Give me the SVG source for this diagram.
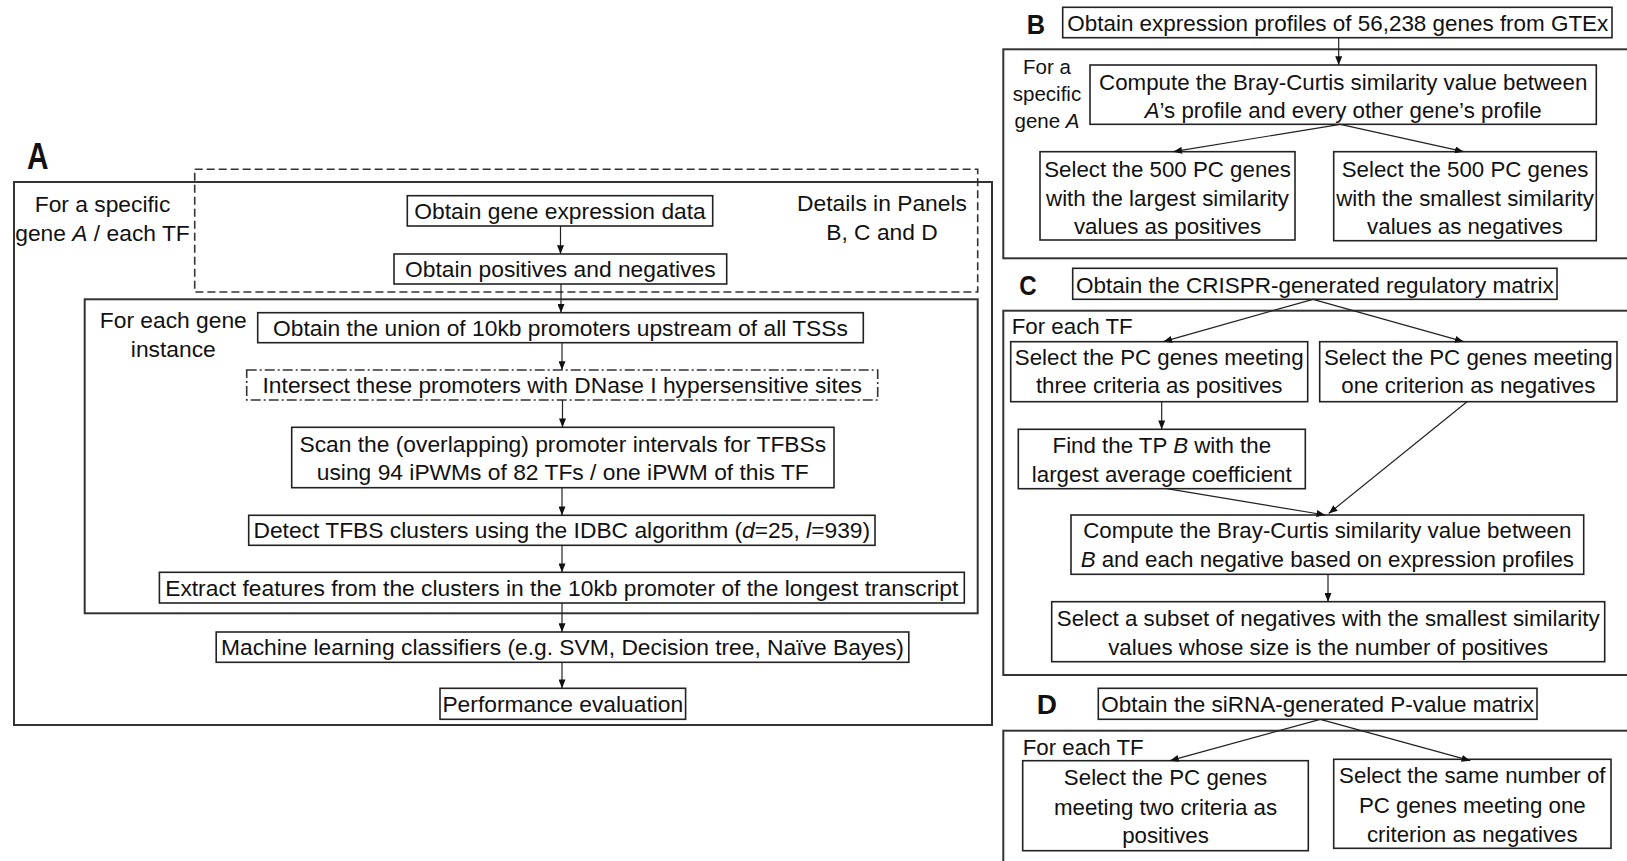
<svg xmlns="http://www.w3.org/2000/svg" width="1627" height="861" viewBox="0 0 1627 861">
  <style>
    text { font-family: "Liberation Sans", Arial, sans-serif; fill: #111; }
    .a { font-size: 22.8px; text-anchor: middle; }
    .b { font-size: 22.3px; text-anchor: middle; }
    .bl { font-size: 22.3px; }
    .tb { font-size: 22.4px; text-anchor: middle; }
    .tc { font-size: 22.5px; text-anchor: middle; }
    .side { font-size: 20.5px; text-anchor: middle; }
    .lab { font-size: 28px; font-weight: bold; }
    .it { font-style: italic; }
    .box { fill: #fff; stroke: #222; stroke-width: 1.6; }
    .frame { fill: none; stroke: #333; stroke-width: 2; }
    .dash { fill: none; stroke: #333; stroke-width: 1.6; stroke-dasharray: 8 4; }
    .dashdot { fill: #fff; stroke: #333; stroke-width: 1.6; stroke-dasharray: 10 3 2 3; }
    .conn line { stroke: #222; stroke-width: 1.2; marker-end: url(#arrow); }
  </style>
  <defs>
    <marker id="arrow" viewBox="0 0 10 8" refX="10" refY="4" markerWidth="9" markerHeight="7" markerUnits="userSpaceOnUse" orient="auto">
      <path d="M0,0 L10,4 L0,8 z" fill="#111"/>
    </marker>
  </defs>
  <rect width="1627" height="861" fill="#fff"/>

  <!-- Panel A: frames -->
  <g id="panelA">
    <text class="lab" x="27" y="168.5" textLength="21.5" lengthAdjust="spacingAndGlyphs" style="font-size:36px">A</text>
    <rect class="frame" x="14" y="182" width="978" height="543"/>
    <rect class="dash" x="194.7" y="169.3" width="783" height="122.7"/>
    <rect class="frame" x="84.7" y="299.3" width="893" height="314"/>
    <text class="a" x="102.5" y="211.7">For a specific</text>
    <text class="a" x="102.5" y="241">gene <tspan class="it">A</tspan> / each TF</text>
    <text class="a" x="882" y="210.7">Details in Panels</text>
    <text class="a" x="882" y="240">B, C and D</text>
    <text class="a" x="173.3" y="328.3">For each gene</text>
    <text class="a" x="173.3" y="357.3">instance</text>
  </g>

  <!-- Panel A: steps -->
  <g id="a-expression">
    <rect class="box" x="407.3" y="195.7" width="305.4" height="30.3"/>
    <text class="a" x="560" y="219.3">Obtain gene expression data</text>
  </g>
  <g id="a-posneg">
    <rect class="box" x="394" y="254" width="332.7" height="30"/>
    <text class="a" x="560.3" y="277">Obtain positives and negatives</text>
  </g>
  <g id="a-union">
    <rect class="box" x="257.7" y="312.7" width="605.6" height="30"/>
    <text class="a" x="560.5" y="335.7">Obtain the union of 10kb promoters upstream of all TSSs</text>
  </g>
  <g id="a-intersect">
    <rect class="dashdot" x="246.7" y="370" width="631" height="30"/>
    <text class="a" x="562.2" y="393">Intersect these promoters with DNase I hypersensitive sites</text>
  </g>
  <g id="a-scan">
    <rect class="box" x="291.7" y="427.3" width="542.3" height="60.4"/>
    <text class="a" x="562.8" y="451.5">Scan the (overlapping) promoter intervals for TFBSs</text>
    <text class="a" x="562.8" y="479.8">using 94 iPWMs of 82 TFs / one iPWM of this TF</text>
  </g>
  <g id="a-detect">
    <rect class="box" x="248.7" y="515.3" width="626.3" height="30"/>
    <text class="a" x="561.8" y="538.3">Detect TFBS clusters using the IDBC algorithm (<tspan class="it">d</tspan>=25, <tspan class="it">l</tspan>=939)</text>
  </g>
  <g id="a-extract">
    <rect class="box" x="159.4" y="572.3" width="804.9" height="30.7"/>
    <text class="a" x="561.8" y="595.7">Extract features from the clusters in the 10kb promoter of the longest transcript</text>
  </g>
  <g id="a-classifiers">
    <rect class="box" x="216.2" y="632" width="692.6" height="30.3"/>
    <text class="a" x="562.5" y="655.2">Machine learning classifiers (e.g. SVM, Decision tree, Naïve Bayes)</text>
  </g>
  <g id="a-evaluation">
    <rect class="box" x="440" y="688.3" width="245.6" height="31"/>
    <text class="a" x="562.8" y="711.8">Performance evaluation</text>
  </g>

  <!-- Panel B -->
  <g id="panelB">
    <text class="lab" x="1026.7" y="34" textLength="18.3" lengthAdjust="spacingAndGlyphs">B</text>
    <rect class="frame" x="1003.3" y="49.3" width="630" height="209"/>
    <text class="side" x="1047" y="74">For a</text>
    <text class="side" x="1047" y="101">specific</text>
    <text class="side" x="1047" y="128">gene <tspan class="it">A</tspan></text>
  </g>
  <g id="b-gtex">
    <rect class="box" x="1062.7" y="7.3" width="549.3" height="30.4"/>
    <text class="tb" x="1337.8" y="31" textLength="541" lengthAdjust="spacingAndGlyphs">Obtain expression profiles of 56,238 genes from GTEx</text>
  </g>
  <g id="b-compute">
    <rect class="box" x="1090" y="65" width="506.3" height="59.3"/>
    <text class="b" x="1343.2" y="90">Compute the Bray-Curtis similarity value between</text>
    <text class="b" x="1343.2" y="118"><tspan class="it">A</tspan>’s profile and every other gene’s profile</text>
  </g>
  <g id="b-positives">
    <rect class="box" x="1040" y="151.7" width="255" height="88.3"/>
    <text class="b" x="1167.5" y="177.3">Select the 500 PC genes</text>
    <text class="b" x="1167.5" y="206">with the largest similarity</text>
    <text class="b" x="1167.5" y="234.3">values as positives</text>
  </g>
  <g id="b-negatives">
    <rect class="box" x="1333.7" y="151.7" width="262.6" height="89"/>
    <text class="b" x="1465" y="177.3">Select the 500 PC genes</text>
    <text class="b" x="1465" y="206">with the smallest similarity</text>
    <text class="b" x="1465" y="234.3">values as negatives</text>
  </g>

  <!-- Panel C -->
  <g id="panelC">
    <text class="lab" x="1019.3" y="295" textLength="17.4" lengthAdjust="spacingAndGlyphs">C</text>
    <rect class="frame" x="1003.3" y="310.7" width="630" height="364.3"/>
    <text class="bl" x="1011.7" y="334">For each TF</text>
  </g>
  <g id="c-crispr">
    <rect class="box" x="1072.7" y="268.3" width="484.3" height="31"/>
    <text class="tc" x="1314.8" y="292.5">Obtain the CRISPR-generated regulatory matrix</text>
  </g>
  <g id="c-positives">
    <rect class="box" x="1010.7" y="341.7" width="297" height="60"/>
    <text class="b" x="1159.2" y="365">Select the PC genes meeting</text>
    <text class="b" x="1159.2" y="393.3">three criteria as positives</text>
  </g>
  <g id="c-negatives">
    <rect class="box" x="1319.7" y="341.7" width="297.3" height="60"/>
    <text class="b" x="1468.3" y="365">Select the PC genes meeting</text>
    <text class="b" x="1468.3" y="393.3">one criterion as negatives</text>
  </g>
  <g id="c-find">
    <rect class="box" x="1018.3" y="429.3" width="287" height="59.4"/>
    <text class="b" x="1161.8" y="452.7">Find the TP <tspan class="it">B</tspan> with the</text>
    <text class="b" x="1161.8" y="481.5">largest average coefficient</text>
  </g>
  <g id="c-compute">
    <rect class="box" x="1071" y="515" width="512.7" height="59.3"/>
    <text class="b" x="1327.3" y="538.3">Compute the Bray-Curtis similarity value between</text>
    <text class="b" x="1327.3" y="566.7"><tspan class="it">B</tspan> and each negative based on expression profiles</text>
  </g>
  <g id="c-subset">
    <rect class="box" x="1051.7" y="601.7" width="553" height="60"/>
    <text class="b" x="1328.2" y="625.5">Select a subset of negatives with the smallest similarity</text>
    <text class="b" x="1328.2" y="654.5">values whose size is the number of positives</text>
  </g>

  <!-- Panel D -->
  <g id="panelD">
    <text class="lab" x="1036.7" y="714">D</text>
    <rect class="frame" x="1003.3" y="730.7" width="630" height="150"/>
    <text class="bl" x="1022.7" y="755">For each TF</text>
  </g>
  <g id="d-sirna">
    <rect class="box" x="1098.3" y="688.3" width="438.7" height="31"/>
    <text class="tc" x="1317.7" y="712">Obtain the siRNA-generated P-value matrix</text>
  </g>
  <g id="d-positives">
    <rect class="box" x="1022.7" y="760.7" width="285.6" height="90"/>
    <text class="b" x="1165.5" y="785">Select the PC genes</text>
    <text class="b" x="1165.5" y="814.5">meeting two criteria as</text>
    <text class="b" x="1165.5" y="843.3">positives</text>
  </g>
  <g id="d-negatives">
    <rect class="box" x="1333.7" y="759.3" width="277.3" height="89"/>
    <text class="b" x="1472.3" y="783">Select the same number of</text>
    <text class="b" x="1472.3" y="812.5">PC genes meeting one</text>
    <text class="b" x="1472.3" y="842">criterion as negatives</text>
  </g>

  <!-- Connectors -->
  <g id="connectors" class="conn">
    <line x1="560.5" y1="226" x2="560.5" y2="254"/>
    <line x1="561" y1="284" x2="561" y2="312.7"/>
    <line x1="562" y1="342.7" x2="562" y2="370"/>
    <line x1="562.5" y1="400" x2="562.5" y2="427.3"/>
    <line x1="562" y1="487.7" x2="562" y2="515.3"/>
    <line x1="562" y1="545.3" x2="562" y2="572.3"/>
    <line x1="562" y1="603" x2="562" y2="632"/>
    <line x1="562" y1="662.3" x2="562" y2="688.3"/>

    <line x1="1338.7" y1="37.7" x2="1338.7" y2="65"/>
    <line x1="1340.3" y1="124.3" x2="1173.3" y2="151.7"/>
    <line x1="1340.3" y1="124.3" x2="1463.7" y2="151.7"/>

    <line x1="1313" y1="299.3" x2="1163.3" y2="341.7"/>
    <line x1="1313" y1="299.3" x2="1463.7" y2="341.7"/>
    <line x1="1161.7" y1="401.7" x2="1161.7" y2="429.3"/>
    <line x1="1166.7" y1="488.7" x2="1325.3" y2="515"/>
    <line x1="1467" y1="401.7" x2="1328.7" y2="513.5"/>
    <line x1="1328" y1="574.3" x2="1328" y2="601.7"/>

    <line x1="1320.3" y1="719.3" x2="1170" y2="760.7"/>
    <line x1="1320.3" y1="719.3" x2="1470.3" y2="760.7"/>
  </g>
</svg>
